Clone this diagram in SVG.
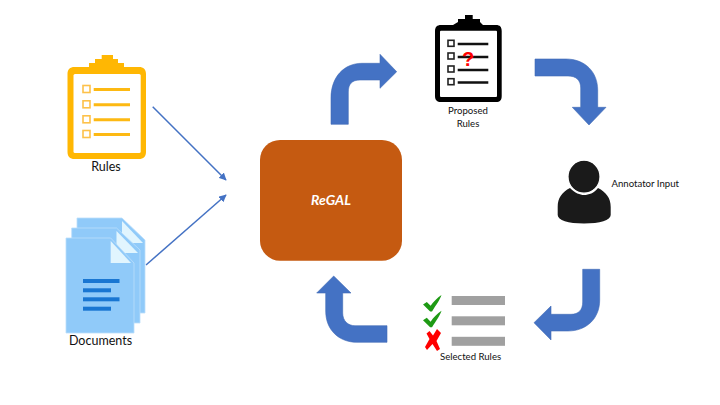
<svg xmlns="http://www.w3.org/2000/svg" width="720" height="405" viewBox="0 0 720 405">
<style>
text{font-family:"Lato","Open Sans","Liberation Sans",sans-serif;fill:#111}
.big{font-size:12.500px}
.small{font-size:9.600px}
.bend{fill:#4472c4;stroke:#3f69b5;stroke-width:.6}
.link{stroke:#4472c4;stroke-width:1.500;fill:none;marker-end:url(#tip)}
.or{fill:#ffb703}.orl{stroke:#fdb913;stroke-width:3}
.orb{fill:#fff;stroke:#fdc14a;stroke-width:1.600}
.blk{stroke:#111;stroke-width:2.600}
.blkb{fill:#fff;stroke:#222;stroke-width:1.600}
.pg{fill:#90caf9;stroke:#bbdefb;stroke-width:.8}
.fold{fill:#e1f5fe}
.bar{fill:#1976d2}
.gray{fill:#a0a0a0}
.chk{fill:#1e9a14}
</style>
<defs>
<marker id="tip" viewBox="0 0 10 10" refX="9" refY="5" markerWidth="5" markerHeight="5" orient="auto"><path d="M0 0L10 5L0 10z" fill="#4472c4"/></marker>
<symbol id="check" viewBox="0 0 20 18" overflow="visible"><path class="chk" d="M0 10L4 7.500L8 11.500C11 7 15 3 19.500 0C18 5 14 10 9.500 17.500L7.500 17.500Z"/></symbol>
</defs>
<rect width="720" height="405" fill="#fff"/>
<g id="connectors">
<path class="link" d="M152.700 106.700L226 180"/>
<path class="link" d="M146 265L226 195"/>
<path class="bend" d="M331 124.300V98C331 77 344 63.300 362 63.300H380V54.300L396.700 71.700L380 88.300V80H360C352 80 348.300 84 348.300 92V124.300Z"/>
<path class="bend" d="M535 59H566C585 59 597.700 72 597.700 90V107.300H606L589 125L572.300 107.300H580.700V88C580.700 80 576 76 568 76H535Z"/>
<path class="bend" d="M599.700 269.300V300C599.700 319 586 331 568 331H551V340L534 322.700L551 306V314.300H571C578.500 314.300 582.700 310 582.700 302V269.300Z"/>
<path class="bend" d="M387 325.700H355C348 325.700 342.700 321 342.700 313V293H351L333.700 276L316.700 293H325.700V311C325.700 330 339 342.300 357 342.300H387Z"/>
</g>
<g id="regal">
<rect x="260" y="140" width="142" height="120.700" rx="20" fill="#c55a11"/>
<text x="331" y="205" text-anchor="middle" font-size="14" font-style="italic" font-weight="700" style="fill:#fff">ReGAL</text>
</g>
<g id="rules">
<path class="or" d="M101.700 55H113V59H118V63H124V67H139C143.500 67 146 69.500 146 74V152C146 156.500 143.500 159 139 159H74.500C70 159 67.500 156.500 67.500 152V74C67.500 69.500 70 67 74.500 67H89V63H95V59H101.700Z"/>
<rect x="73.500" y="74" width="67.200" height="79" rx="1.500" fill="#fff"/>
<rect class="orb" x="83" y="85.500" width="7" height="7"/><rect class="orb" x="83" y="100.800" width="7" height="7"/><rect class="orb" x="83" y="115.800" width="7" height="7"/><rect class="orb" x="83" y="130.500" width="7" height="7"/>
<path class="orl" d="M93.700 89.500H130M93.700 104.800H130M93.700 119.800H130M93.700 134.500H130"/>
<text class="big" x="106" y="171" text-anchor="middle">Rules</text>
</g>
<g id="documents">
<path class="pg" d="M77 218H122L145 240V313H77Z"/><path class="fold" d="M122 221L143 243H122Z"/>
<path class="pg" d="M71.700 228H116.500L140 250V323H71.700Z"/><path class="fold" d="M116.500 231L138 253H116.500Z"/>
<path class="pg" d="M66 238H110.700L134 263V333H66Z"/><path class="fold" d="M110.700 241L131 263H110.700Z"/>
<rect class="bar" x="83" y="279" width="36.500" height="4"/><rect class="bar" x="83" y="288.300" width="28" height="4"/><rect class="bar" x="83" y="297.300" width="36.500" height="4"/><rect class="bar" x="83" y="306.700" width="28" height="4"/>
<text class="big" x="100.500" y="345" text-anchor="middle">Documents</text>
</g>
<g id="proposed-rules">
<path fill="#000" d="M465 15H472.700V19H480V22L483 25H496C500 25 501.700 27 501.700 31V96C501.700 100 500 102 496 102H441C437 102 435 100 435 96V31C435 27 437 25 441 25H453L458 22V19H465Z"/>
<rect x="440" y="30.700" width="57" height="66.300" rx="1" fill="#fff"/>
<rect class="blkb" x="448" y="40.300" width="6" height="6"/><rect class="blkb" x="448" y="53" width="6" height="6"/><rect class="blkb" x="448" y="66" width="6" height="6"/><rect class="blkb" x="448" y="78.700" width="6" height="6"/>
<path class="blk" d="M457.700 44H488.300M457.700 57H488.300M457.700 70H488.300M457.700 82.500H488.300"/>
<text x="468" y="66" text-anchor="middle" font-size="20" font-weight="700" style="fill:#f00;font-family:'Liberation Sans',sans-serif">?</text>
<text class="small" x="468" y="114" text-anchor="middle">Proposed</text>
<text class="small" x="468" y="126.500" text-anchor="middle">Rules</text>
</g>
<g id="annotator">
<path fill="#1a1a1a" d="M570 188C575 193 580 195 584 195C589 195 594 193 598 188C606 192 610.700 198 610.700 207V215C610.700 220 600 223.500 584 223.500C568 223.500 557.700 220 557.700 215V207C557.700 198 562 192 570 188Z"/>
<ellipse cx="584" cy="176.700" rx="16" ry="16.500" fill="#1a1a1a" stroke="#fff" stroke-width="1.200"/>
<text class="small" x="611.500" y="187">Annotator Input</text>
</g>
<g id="selected-rules">
<use href="#check" x="423" y="295" width="19" height="17"/>
<use href="#check" x="423" y="310.500" width="19" height="17.500"/>
<path fill="#f00" d="M437 329L441 333L436.500 341L440 349L437 351L432.500 344L427 350L425 347L429.500 339L426.500 333.500L429.500 331L433 335.500Z"/>
<rect class="gray" x="451.700" y="296" width="53.300" height="9"/><rect class="gray" x="451.700" y="316.300" width="53.300" height="9"/><rect class="gray" x="451.700" y="336.800" width="53.300" height="9"/>
<text class="small" x="440" y="360">Selected Rules</text>
</g>
</svg>
